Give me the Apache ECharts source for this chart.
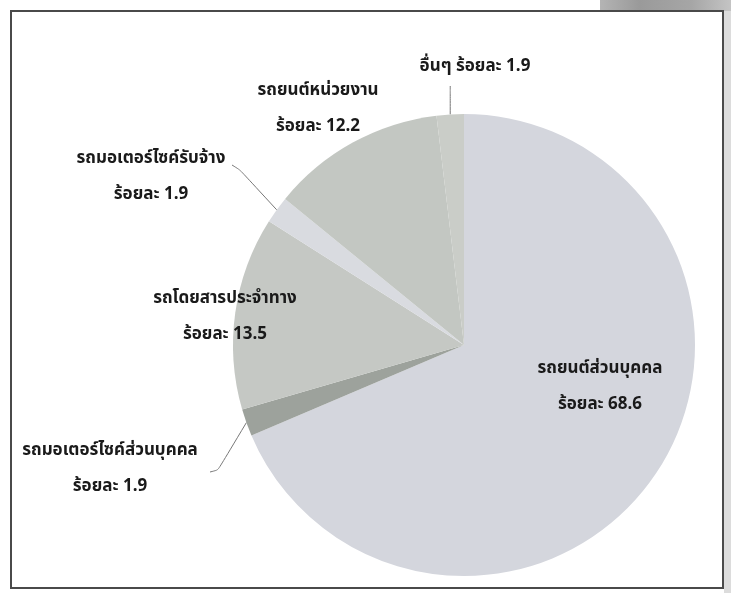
<!DOCTYPE html>
<html>
<head>
<meta charset="utf-8">
<script src="https://cdn.jsdelivr.net/npm/echarts@6/dist/echarts.min.js"></script>
<style>
html,body{margin:0;padding:0;background:#fff;}
#c{width:731px;height:593px;}
</style>
</head>
<body>
<div id="c"></div>
<script>
// Data
var categories = ['รถยนต์ส่วนบุคคล', 'รถมอเตอร์ไซค์ส่วนบุคคล', 'รถโดยสารประจำทาง', 'รถมอเตอร์ไซค์รับจ้าง', 'รถยนต์หน่วยงาน', 'อื่นๆ'];
var values = [68.6, 1.9, 13.5, 1.9, 12.2, 1.9];
var labelPrefix = 'ร้อยละ';

// Styles
var colors = ['#d4d6dd', '#9da29c', '#c5c8c4', '#d9dbe0', '#c3c7c2', '#cacdc8'];
var labelCenters = [[600, 388], [110, 470], [225, 318], [151, 178], [318, 110], [475, 68]];
var singleLine = [false, false, false, false, false, true];
var showLine = [false, true, false, true, false, true];
// intermediate guide-line points (label end side) for the small slices
var guideEnds = [null, [[218, 470], [210, 472]], null, [[240, 170], [232, 165]], null, [[null, 90], [null, 86]]];

var chart = echarts.init(document.getElementById('c'));
var data = categories.map(function (name, i) {
  return {
    name: name,
    value: values[i],
    itemStyle: { color: colors[i] },
    labelLine: { show: showLine[i] }
  };
});

chart.setOption({
  animation: false,
  graphic: [
    { type: 'rect', shape: { x: 724, y: 0, width: 7, height: 593 }, style: { fill: '#dcdcdc' } },
    { type: 'rect', shape: { x: 600, y: 0, width: 131, height: 11 },
      style: { fill: new echarts.graphic.LinearGradient(0, 0, 1, 0, [
        { offset: 0, color: '#b4b4b4' }, { offset: 0.3, color: '#9a9a9a' }, { offset: 0.7, color: '#a6a6a6' }, { offset: 1, color: '#c4c4c4' }]) } },
    { type: 'rect', shape: { x: 11, y: 11, width: 712, height: 577 }, style: { fill: 'none', stroke: '#4a4a4a', lineWidth: 2 } }
  ],
  series: [{
    type: 'pie',
    center: [464, 345],
    radius: [0, 231],
    startAngle: 90,
    clockwise: true,
    data: data,
    label: {
      show: true,
      position: 'outside',
      overflow: 'none',
      fontFamily: 'Tahoma, "Noto Sans Thai", "Noto Sans", sans-serif',
      fontWeight: 'bold',
      fontSize: 17,
      color: '#1a1a1a',
      lineHeight: 36,
      align: 'center',
      formatter: function (p) {
        var i = p.dataIndex;
        return singleLine[i] ? p.name + ' ' + labelPrefix + ' ' + p.value : p.name + '\n' + labelPrefix + ' ' + p.value;
      }
    },
    labelLine: { lineStyle: { color: '#777', width: 1 }, length: 10, length2: 10, smooth: 0.2 },
    labelLayout: function (params) {
      var i = params.dataIndex;
      var c = labelCenters[i];
      var out = { x: c[0], y: c[1], align: 'center', verticalAlign: 'middle', width: 400 };
      var g = guideEnds[i];
      if (g && params.labelLinePoints) {
        var p0 = params.labelLinePoints[0];
        out.labelLinePoints = [
          [p0[0], p0[1]],
          [g[0][0] == null ? p0[0] : g[0][0], g[0][1]],
          [g[1][0] == null ? p0[0] : g[1][0], g[1][1]]
        ];
      }
      return out;
    },
    emphasis: { disabled: true }
  }]
});
</script>
</body>
</html>
